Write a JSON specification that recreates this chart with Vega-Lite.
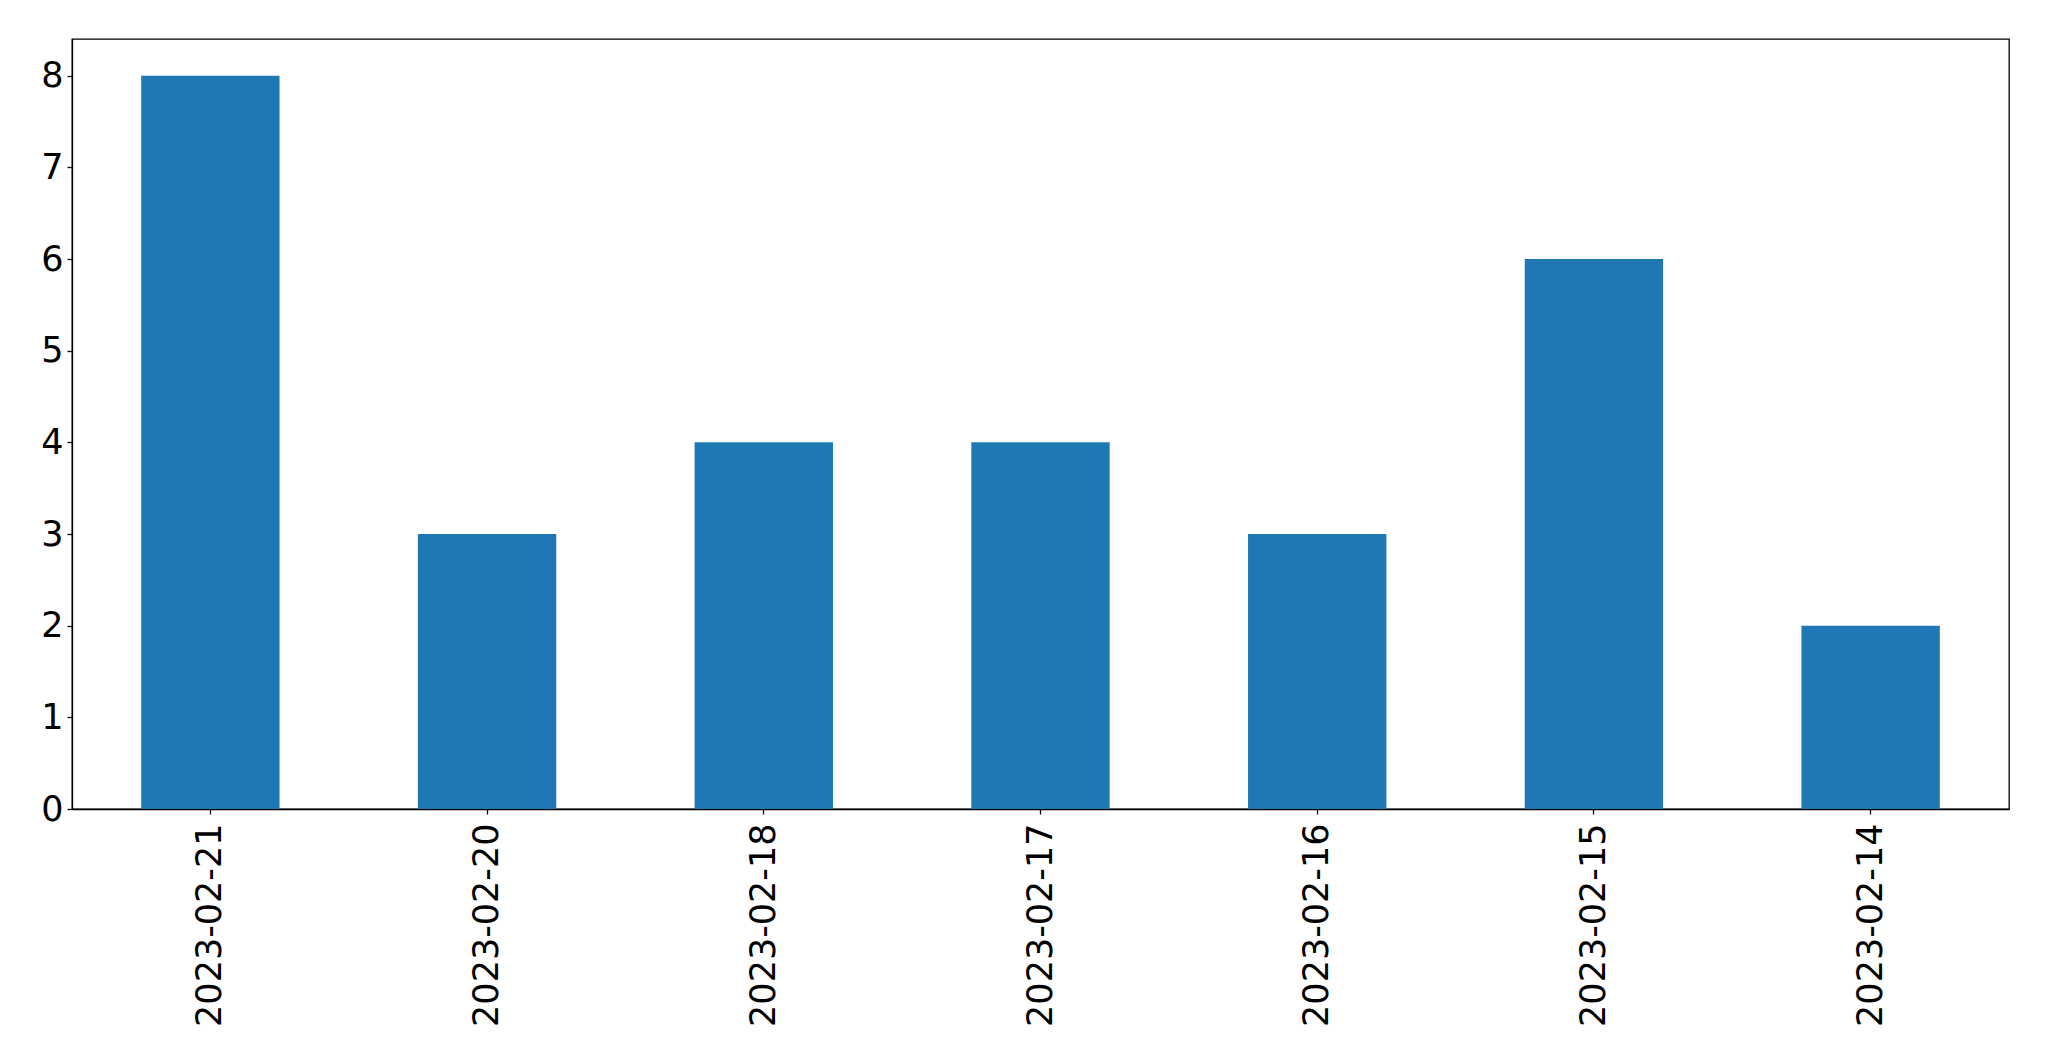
{
  "$schema": "https://vega.github.io/schema/vega-lite/v6.json",
  "autosize": "none",
  "width": 1937,
  "height": 770,
  "padding": {"left": 72, "top": 39, "right": 40, "bottom": 252},
  "background": "white",
  "data": {"values": [
    {"date": "2023-02-21", "count": 8},
    {"date": "2023-02-20", "count": 3},
    {"date": "2023-02-18", "count": 4},
    {"date": "2023-02-17", "count": 4},
    {"date": "2023-02-16", "count": 3},
    {"date": "2023-02-15", "count": 6},
    {"date": "2023-02-14", "count": 2}
  ]},
  "mark": {"type": "bar", "color": "#1f77b4"},
  "encoding": {
    "x": {
      "field": "date", "type": "nominal", "sort": null,
      "scale": {"paddingInner": 0.5, "paddingOuter": 0.25},
      "axis": {"title": null, "labelAngle": -90, "labelLimit": 0, "labelFontSize": 35, "labelFont": "DejaVu Sans", "labelColor": "black", "tickColor": "black", "domainColor": "black", "tickSize": 5, "labelPadding": 9, "tickWidth": 1.3, "domainWidth": 1.3}
    },
    "y": {
      "field": "count", "type": "quantitative",
      "scale": {"domain": [0, 8.4], "nice": false, "zero": true},
      "axis": {"title": null, "values": [0,1,2,3,4,5,6,7,8], "grid": false, "labelFontSize": 35, "labelFont": "DejaVu Sans", "labelColor": "black", "tickColor": "black", "domainColor": "black", "tickSize": 5, "labelPadding": 4, "tickWidth": 1.3, "domainWidth": 1.3}
    }
  },
  "config": {"view": {"stroke": "black", "strokeWidth": 1.3}}
}
